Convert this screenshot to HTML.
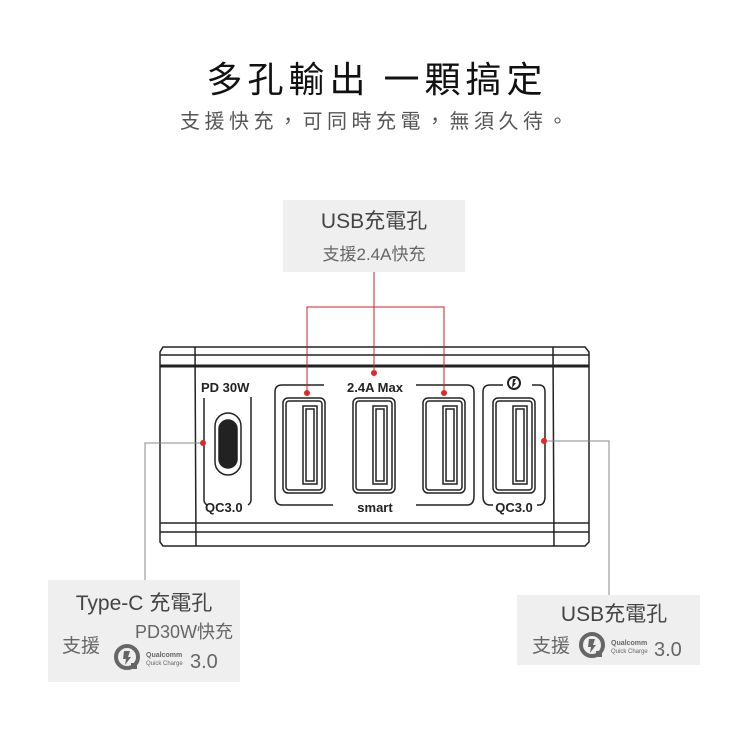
<!DOCTYPE html>
<html><head><meta charset="utf-8"><style>
html,body{margin:0;padding:0;background:#fff;}
svg{display:block;font-family:"Liberation Sans","Noto Sans CJK TC",sans-serif;}
</style></head><body>
<svg width="750" height="750" viewBox="0 0 750 750" xmlns="http://www.w3.org/2000/svg">
<text x="377" y="92" text-anchor="middle" font-size="36" fill="#111" font-family="Noto Sans CJK TC,sans-serif" letter-spacing="5">多孔輸出 一顆搞定</text>
<text x="376" y="128" text-anchor="middle" font-size="20" fill="#555" font-family="Noto Sans CJK TC,sans-serif" letter-spacing="4.5">支援快充，可同時充電，無須久待。</text>

<rect x="283" y="200" width="182" height="72" fill="#efefef"/>
<text x="374" y="228" text-anchor="middle" font-size="21" fill="#444">USB充電孔</text>
<text x="374" y="260" text-anchor="middle" font-size="17" fill="#666">支援2.4A快充</text>

<rect x="48" y="580" width="192" height="102" fill="#efefef"/>
<text x="144" y="610" text-anchor="middle" font-size="21" fill="#444">Type-C 充電孔</text>
<text x="233" y="638" text-anchor="end" font-size="18" fill="#666">PD30W快充</text>
<text x="62" y="652" font-size="19" fill="#666">支援</text>

<rect x="517" y="595" width="183" height="70" fill="#efefef"/>
<text x="614" y="621" text-anchor="middle" font-size="21" fill="#444">USB充電孔</text>
<text x="532" y="652" font-size="19" fill="#666">支援</text>

<g fill="#666">
 <g transform="translate(127,657)"><circle r="11" fill="none" stroke="#666" stroke-width="4"/><path d="M-3,-6 L3,-6 L1,0 L4,0 L-2,8 L-1,2 L-4,2Z"/><rect x="4" y="6" width="6" height="6" fill="#666"/></g>
 <text x="146" y="657" font-size="7" font-weight="bold">Qualcomm</text>
 <text x="146" y="665" font-size="6">Quick Charge</text>
 <text x="190" y="668" font-size="20">3.0</text>
 <g transform="translate(592,645)"><circle r="11" fill="none" stroke="#666" stroke-width="4"/><path d="M-3,-6 L3,-6 L1,0 L4,0 L-2,8 L-1,2 L-4,2Z"/><rect x="4" y="6" width="6" height="6" fill="#666"/></g>
 <text x="611" y="645" font-size="7" font-weight="bold">Qualcomm</text>
 <text x="611" y="653" font-size="6">Quick Charge</text>
 <text x="654" y="656" font-size="20">3.0</text>
</g>

<g fill="none" stroke="#222" stroke-width="1.5">
 <path d="M163,347 L585,347 L589,352 L589,542 L585,546 L163,546 L160,542 L160,352Z"/>
 <line x1="160" y1="355" x2="589" y2="355"/>
 <line x1="160" y1="523" x2="589" y2="523"/>
 <line x1="160" y1="532" x2="589" y2="532"/>
 <line x1="195" y1="347" x2="196" y2="546"/>
 <line x1="553" y1="347" x2="554" y2="546"/>
 <path d="M204,398 V500 Q204,503 207,505"/>
 <path d="M251,397 V500 Q251,503 248,505"/>
 <rect x="215" y="413" width="26" height="62" rx="13"/>
 <rect x="219" y="420" width="18" height="48" rx="9" fill="#222"/>
 <path d="M324,385 H282 Q275,385 275,392 V496 Q275,505 282,505 H333"/>
 <path d="M416,385 H467 Q474,385 474,392 V496 Q474,505 467,505 H416"/>
 <path d="M503,385 H490 Q483,385 483,392 V496 Q483,505 490,505 H493"/>
 <path d="M532,385 H539 Q545,385 545,392 V496 Q545,505 539,505 H537"/>
 <g id="u"><rect x="283" y="398" width="42" height="95" rx="5"/><rect x="286" y="401" width="36" height="89" rx="3"/><rect x="303" y="406" width="14" height="78"/><rect x="306" y="409" width="8" height="72"/></g>
 <use href="#u" x="70"/><use href="#u" x="140"/><use href="#u" x="210"/>
</g>
<line x1="160" y1="366" x2="589" y2="366" stroke="#222" stroke-width="3"/>
<g font-weight="bold" font-size="13" fill="#222">
 <text x="201" y="392">PD 30W</text>
 <text x="205" y="512">QC3.0</text>
 <text x="375" y="392" text-anchor="middle">2.4A Max</text>
 <text x="375" y="512" text-anchor="middle">smart</text>
 <text x="514" y="512" text-anchor="middle">QC3.0</text>
</g>
<circle cx="514" cy="383" r="6" fill="none" stroke="#222" stroke-width="2"/>
<path d="M513,379 L516,379 L514,383 L516,383 L512,388Z" fill="#222"/>

<g stroke="#d42020" stroke-width="1" fill="none">
 <line x1="374" y1="272" x2="374" y2="373"/>
 <path d="M307,393 V307 H444 V393"/>
</g>
<g stroke="#888" stroke-width="1" fill="none">
 <path d="M203,443 H145 V580"/>
 <path d="M544,441 H609 V595"/>
</g>
<g fill="#e02828">
 <circle cx="374" cy="373" r="3"/><circle cx="307" cy="393" r="3"/><circle cx="444" cy="393" r="3"/>
 <circle cx="203" cy="443" r="3"/><circle cx="544" cy="441" r="3"/>
</g>
</svg>
</body></html>
